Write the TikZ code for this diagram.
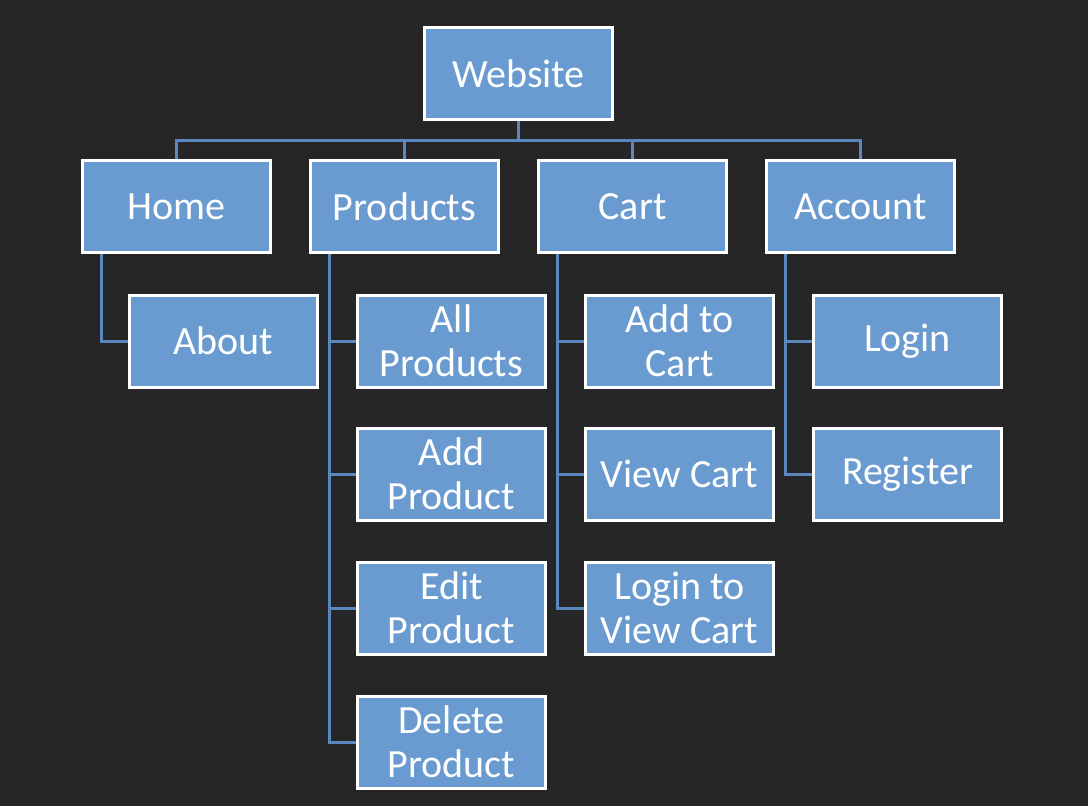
\documentclass[tikz,border=0pt]{standalone}
\usepackage{fontspec}
\setmainfont{Carlito}
\usetikzlibrary{backgrounds}
\definecolor{bgc}{HTML}{262626}
\definecolor{boxfill}{HTML}{6A9BD0}
\definecolor{linec}{HTML}{5A87BE}
\tikzset{
  box/.style={draw=white, line width=3pt, fill=boxfill, rectangle, minimum width=188pt, minimum height=92pt, inner sep=0pt, align=center, text=white, font=\fontsize{40}{44}\selectfont},
  conn/.style={draw=linec, line width=3pt}
}
\begin{document}
\begin{tikzpicture}[x=1pt,y=-1pt]
\node[box] (web) at (518.5,73.5) {Website};
\node[box] (home) at (176.5,206.5) {Home};
\node[box] (prod) at (404.5,206.5) {Products};
\node[box] (cart) at (632.5,206.5) {Cart};
\node[box] (acct) at (860.5,206.5) {Account};
\node[box] (about) at (223.5,341) {About};
\node[box] (allp) at (451.5,341) {All\\Products};
\node[box] (addp) at (451.5,474) {Add\\Product};
\node[box] (editp) at (451.5,608) {Edit\\Product};
\node[box] (delp) at (451.5,742) {Delete\\Product};
\node[box] (addc) at (679.5,341) {Add to\\Cart};
\node[box] (viewc) at (679.5,474) {View Cart};
\node[box] (loginc) at (679.5,608) {Login to\\View Cart};
\node[box] (login) at (907.5,341) {Login};
\node[box] (reg) at (907.5,474) {Register};
\coordinate (bus) at (518.5,140);
\begin{pgfonlayer}{background}
\fill[bgc] (0,0) rectangle (1088,806);
\draw[conn] (web.south) -- (bus);
\draw[conn] (home.north) |- (bus);
\draw[conn] (prod.north) |- (bus);
\draw[conn] (cart.north) |- (bus);
\draw[conn] (acct.north) |- (bus);
\draw[conn] ([xshift=-75.5pt]home.south) |- (about.west);
\draw[conn] ([xshift=-75.5pt]prod.south) |- (allp.west);
\draw[conn] ([xshift=-75.5pt]prod.south) |- (addp.west);
\draw[conn] ([xshift=-75.5pt]prod.south) |- (editp.west);
\draw[conn] ([xshift=-75.5pt]prod.south) |- (delp.west);
\draw[conn] ([xshift=-75.5pt]cart.south) |- (addc.west);
\draw[conn] ([xshift=-75.5pt]cart.south) |- (viewc.west);
\draw[conn] ([xshift=-75.5pt]cart.south) |- (loginc.west);
\draw[conn] ([xshift=-75.5pt]acct.south) |- (login.west);
\draw[conn] ([xshift=-75.5pt]acct.south) |- (reg.west);
\end{pgfonlayer}
\end{tikzpicture}
\end{document}
